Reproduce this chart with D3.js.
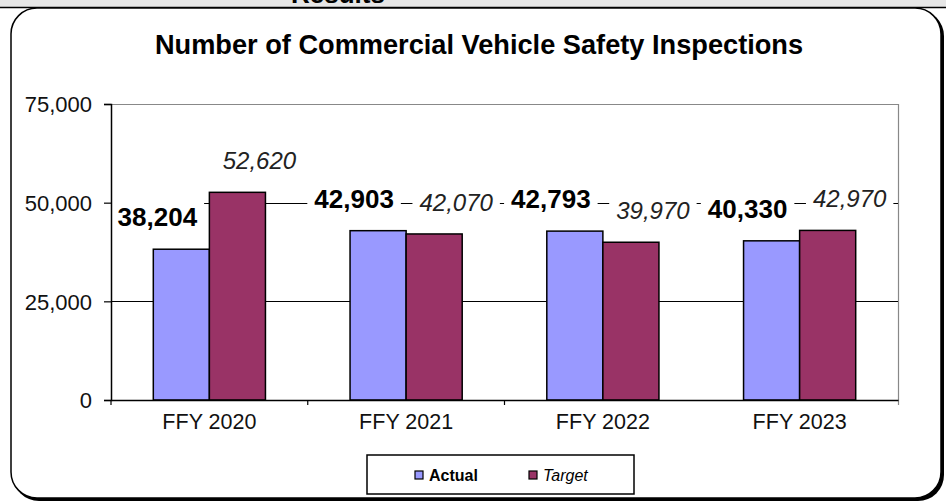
<!DOCTYPE html>
<html>
<head>
<meta charset="utf-8">
<script src="https://cdn.jsdelivr.net/npm/d3@7"></script>
<style>
  body { margin: 0; background: #fff; }
  svg { display: block; font-family: "Liberation Sans", Arial, sans-serif; }
</style>
</head>
<body>
<svg id="chart" width="946" height="502"></svg>
<script>
// chart data
const years = ["FFY 2020", "FFY 2021", "FFY 2022", "FFY 2023"];
const actual = [38204, 42903, 42793, 40330];
const target = [52620, 42070, 39970, 42970];
const seriesNames = ["Actual", "Target"];
const yTicks = [0, 25000, 50000, 75000];

const colors = { Actual: "#9999ff", Target: "#993366" };

const svg = d3.select("#chart");
const W = 946, H = 502;
const plot = { left: 111, right: 898, top: 104, bottom: 400 };

// gray strip at top with the heading cut off, as in the source page
svg.append("rect").attr("x", 0).attr("y", 0).attr("width", W).attr("height", 8).attr("fill", "#e6e6e6");
svg.append("text").attr("x", 338).attr("y", 2.5).attr("text-anchor", "middle")
  .attr("font-size", 26).attr("font-weight", "bold").text("Results");
svg.append("line").attr("x1", 0).attr("x2", W).attr("y1", 7.5).attr("y2", 7.5)
  .attr("stroke", "#000").attr("stroke-width", 1.5);

// outer frame with shadow
svg.append("rect").attr("x", 13).attr("y", 10).attr("width", 931).attr("height", 491)
  .attr("rx", 26).attr("fill", "#000");
svg.append("rect").attr("x", 11).attr("y", 8).attr("width", 930).attr("height", 490)
  .attr("rx", 26).attr("fill", "#fff").attr("stroke", "#000").attr("stroke-width", 1.5);

// title
svg.append("text").attr("x", 479).attr("y", 54).attr("text-anchor", "middle")
  .attr("font-size", 27.2).attr("font-weight", "bold").attr("fill", "#000")
  .text("Number of Commercial Vehicle Safety Inspections");

// scales
const y = d3.scaleLinear().domain([0, 75000]).range([plot.bottom, plot.top]);
const x0 = d3.scaleBand().domain(years).range([plot.left, plot.right]).padding(0);
const pad = x0.bandwidth() * 0.215;
const x1 = d3.scaleBand().domain(seriesNames).range([pad, x0.bandwidth() - pad]).padding(0);

// top and right border of plot area (gray)
svg.append("line").attr("x1", plot.left).attr("x2", plot.right)
  .attr("y1", y(75000) + 0.5).attr("y2", y(75000) + 0.5).attr("stroke", "#888").attr("stroke-width", 1.2);
svg.append("line").attr("x1", plot.right + 0.5).attr("x2", plot.right + 0.5)
  .attr("y1", plot.top).attr("y2", plot.bottom + 5).attr("stroke", "#888").attr("stroke-width", 1.2);

// gridlines
svg.append("g").selectAll("line").data(yTicks.filter(d => d > 0 && d < 75000)).enter()
  .append("line")
  .attr("x1", plot.left).attr("x2", plot.right)
  .attr("y1", d => Math.round(y(d)) + 0.5).attr("y2", d => Math.round(y(d)) + 0.5)
  .attr("stroke", "#000").attr("stroke-width", 1.2);

// bars
const rows = years.map((yr, i) => ({ year: yr, Actual: actual[i], Target: target[i] }));
const groups = svg.append("g").selectAll("g").data(rows).enter()
  .append("g").attr("transform", d => `translate(${x0(d.year)},0)`);
groups.selectAll("rect").data(d => seriesNames.map(k => ({ key: k, value: d[k] }))).enter()
  .append("rect")
  .attr("x", d => x1(d.key))
  .attr("y", d => y(d.value))
  .attr("width", x1.bandwidth())
  .attr("height", d => y(0) - y(d.value))
  .attr("fill", d => colors[d.key])
  .attr("stroke", "#000").attr("stroke-width", 1.5);

// value labels with white boxes (drawn before the axes so the axis stays on top)
const labelLayer = svg.append("g");
rows.forEach(r => {
  seriesNames.forEach(k => {
    const cx = x0(r.year) + x1(k) + x1.bandwidth() / 2 + (k === "Actual" ? -24 : 22);
    const base = y(r[k]) - 23;
    const g = labelLayer.append("g");
    const t = g.append("text")
      .attr("x", cx).attr("y", base).attr("text-anchor", "middle")
      .attr("font-size", k === "Actual" ? 26 : 24)
      .attr("font-weight", k === "Actual" ? "bold" : "normal")
      .attr("font-style", k === "Actual" ? "normal" : "italic")
      .attr("fill", k === "Actual" ? "#000" : "#222")
      .text(d3.format(",")(r[k]));
    const w = t.node().getComputedTextLength();
    g.insert("rect", "text")
      .attr("x", cx - w / 2 - 7).attr("y", base - 26)
      .attr("width", w + 14).attr("height", 32)
      .attr("fill", "#fff");
  });
});

// axes
const yAxis = svg.append("g").attr("transform", `translate(${plot.left},0)`)
  .call(d3.axisLeft(y).tickValues(yTicks).tickFormat(d3.format(",")).tickSize(7).tickPadding(12));
yAxis.select(".domain").attr("stroke", "#000").attr("stroke-width", 1.5);
yAxis.selectAll(".tick line").attr("stroke", "#000").attr("stroke-width", 1.2);
yAxis.selectAll("text").attr("font-size", 22).attr("font-family", "Liberation Sans, Arial")
  .attr("fill", "#111").attr("dy", "0.35em");

const xAxis = svg.append("g").attr("transform", `translate(0,${plot.bottom})`)
  .call(d3.axisBottom(x0).tickSize(0).tickPadding(14));
xAxis.select(".domain").attr("stroke", "#000").attr("stroke-width", 1.5);
xAxis.selectAll("text").attr("font-size", 21.5).attr("font-family", "Liberation Sans, Arial").attr("fill", "#111");
// boundary ticks below the axis
svg.append("g").selectAll("line").data(years.slice(0, -1)).enter()
  .append("line")
  .attr("x1", d => x0(d)).attr("x2", d => x0(d))
  .attr("y1", plot.bottom).attr("y2", plot.bottom + 5)
  .attr("stroke", "#000").attr("stroke-width", 1.2);

// legend
const legend = svg.append("g");
legend.append("rect").attr("x", 367).attr("y", 455).attr("width", 267).attr("height", 39)
  .attr("fill", "#fff").attr("stroke", "#000").attr("stroke-width", 1.5);
const legendX = [415, 529];
seriesNames.forEach((k, i) => {
  legend.append("rect").attr("x", legendX[i]).attr("y", 471).attr("width", 8).attr("height", 8)
    .attr("fill", colors[k]).attr("stroke", "#000").attr("stroke-width", 1.2);
  legend.append("text").attr("x", legendX[i] + 14).attr("y", 481)
    .attr("font-size", 16)
    .attr("font-weight", k === "Actual" ? "bold" : "normal")
    .attr("font-style", k === "Actual" ? "normal" : "italic")
    .attr("fill", "#000").text(k);
});
</script>
</body>
</html>
